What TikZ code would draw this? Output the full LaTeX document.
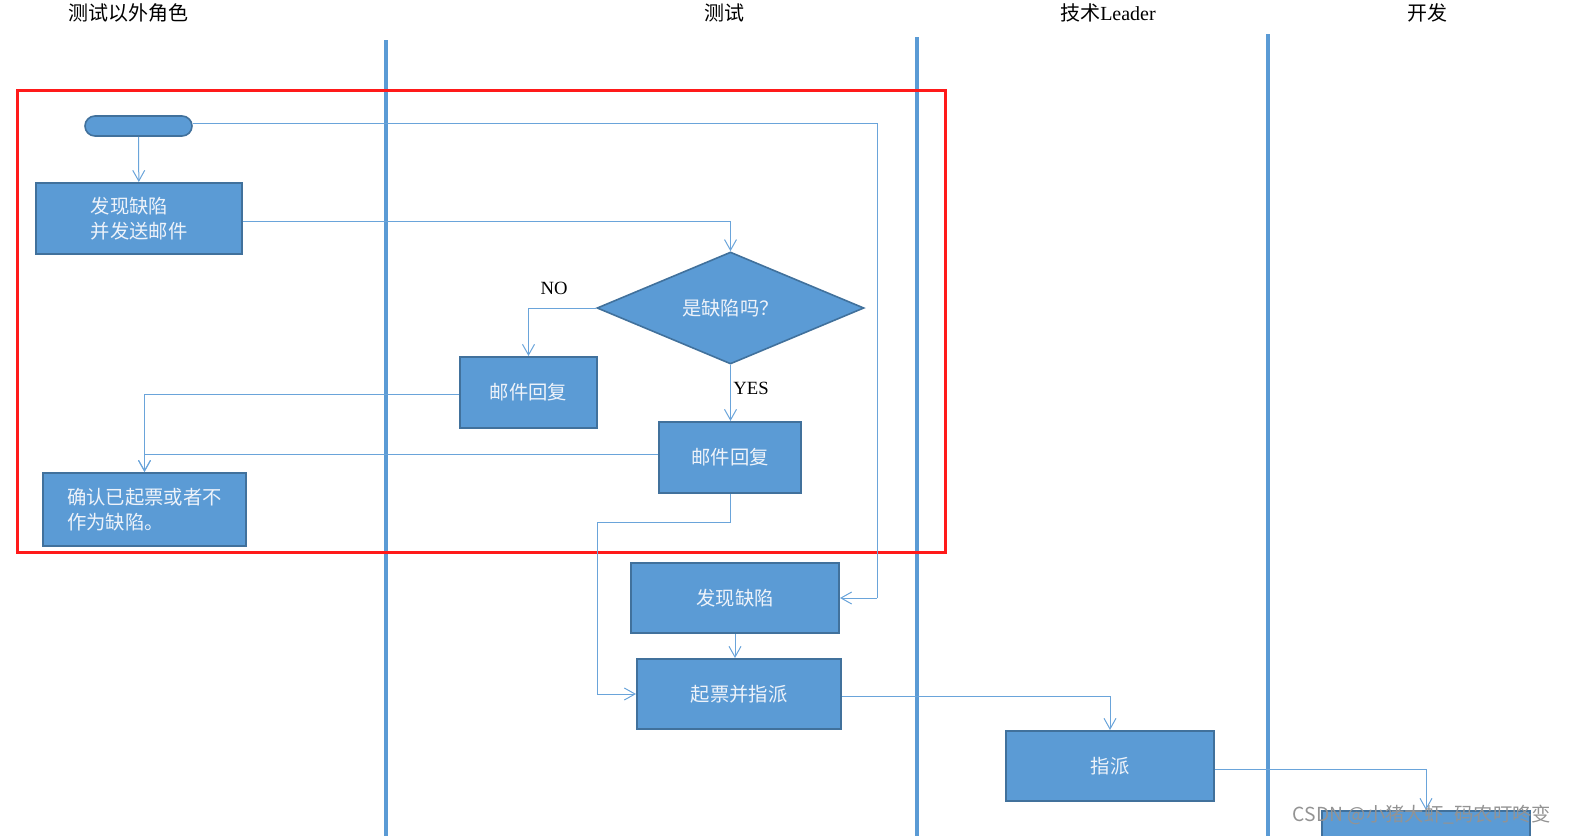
\documentclass[tikz,border=0pt]{standalone}
\usepackage{fontspec}
\setmainfont{Liberation Serif}
\newfontfamily\cjk{Noto Sans CJK SC}
\usetikzlibrary{shapes.geometric,arrows.meta,calc}
\definecolor{lane}{HTML}{5B9BD5}
\definecolor{boxfill}{HTML}{5B9BD5}
\definecolor{boxline}{HTML}{41719C}
\definecolor{conn}{HTML}{6AA4DA}
\definecolor{redbox}{HTML}{FF1A1A}
\definecolor{boxtext}{HTML}{EEF3FA}
\tikzset{
  lanestyle/.style={draw=lane,line width=3pt},
  boxstyle/.style={draw=boxline,fill=boxfill,line width=1.5pt,text=boxtext,inner sep=0pt,
     font=\cjk\fontsize{14.5}{19}\selectfont,align=left},
  diastyle/.style={diamond,draw=boxline,fill=boxfill,line width=1.2pt,text=boxtext,inner sep=0pt,
     aspect=2.38,font=\cjk\fontsize{14.5}{19}\selectfont},
  arr/.style={draw=conn,line width=0.75pt,-{Straight Barb[length=8pt,width=9pt,line width=0.75pt]}},
  conline/.style={draw=conn,line width=0.75pt},
  header/.style={font=\cjk\fontsize{15}{18}\selectfont,text=black},
  lbl/.style={font=\fontsize{14}{16}\selectfont,text=black}
}
\begin{document}
\begin{tikzpicture}[x=0.75pt,y=-0.75pt]
\useasboundingbox (0,0) rectangle (1572,836);
\clip (0,0) rectangle (1572,836);
% headers
\node[header] (h1) at (128,13) {测试以外角色};
\node[header] (h2) at (724,13) {测试};
\node[header] (h3) at (1108,13) {技术{\fontspec{Liberation Serif}Leader}};
\node[header] (h4) at (1427,13) {开发};
% lane lines
\draw[lanestyle] (386,40) -- (386,836);
\draw[lanestyle] (917,37) -- (917,836);
\draw[lanestyle] (1268,34) -- (1268,836);
% red rectangle
\draw[draw=redbox,line width=2.25pt] (17,90) rectangle (945,552);
% nodes
\node[draw=boxline,fill=boxfill,line width=1.2pt,rounded corners=7.5pt,minimum width=80.25pt,minimum height=15pt,inner sep=0pt] (start) at (138.5,126) {};
\node[boxstyle,minimum width=154.5pt,minimum height=53.25pt] (b1) at (139,218.5) {发现缺陷\\并发送邮件};
\node[diastyle,minimum width=200.25pt,minimum height=84pt] (dia) at (730.5,308) {是缺陷吗？};
\node[boxstyle,minimum width=102.75pt,minimum height=53.25pt] (nobox) at (528.5,392.5) {邮件回复};
\node[boxstyle,minimum width=106.5pt,minimum height=53.25pt] (yesbox) at (730,457.5) {邮件回复};
\node[boxstyle,minimum width=152.25pt,minimum height=54.75pt] (confirm) at (144.5,509.5) {确认已起票或者不\\作为缺陷。};
\node[boxstyle,minimum width=156pt,minimum height=52.5pt] (find) at (735,598) {发现缺陷};
\node[boxstyle,minimum width=153pt,minimum height=52.5pt] (ticket) at (739,694) {起票并指派};
\node[boxstyle,minimum width=156pt,minimum height=52.5pt] (assign) at (1110,766) {指派};
\node[boxstyle,minimum width=156pt,minimum height=52.5pt] (dev) at (1426,846) {};
% connector helper coordinates
\coordinate (c1) at (877,598);
\coordinate (c2) at (597,694);
% connectors
\draw[arr] (start) -- (b1);
\draw[conline] ($(start.east)+(0,-3)$) -| (c1);
\draw[arr] (c1) -- (find.east);
\draw[arr] ($(b1.east)+(0,2.5)$) -| (dia.north);
\draw[arr] (dia.west) -| (nobox.north);
\node[lbl] (nolbl) at (554,288) {NO};
\draw[arr] (dia.south) -- (dia.south |- yesbox.north);
\node[lbl] (yeslbl) at (751,388) {YES};
\draw[arr] ($(nobox.west)+(0,1.5)$) -| (confirm.north);
\draw[arr] ($(yesbox.west)+(0,-3)$) -| (confirm.north);
\draw[conline] (yesbox.south) -- ++(0,28) -| (c2);
\draw[arr] (c2) -- (ticket.west);
\draw[arr] (find.south) -- (find.south |- ticket.north);
\draw[arr] ($(ticket.east)+(0,2)$) -| (assign.north);
\draw[arr] ($(assign.east)+(0,3)$) -| (dev.north);
% watermark
\node[font=\cjk\fontsize{14.5}{16}\selectfont,text=gray!85] (wm) at (1422,815) {CSDN @小猪大虾\_码农叮咚变};
\end{tikzpicture}
\end{document}
